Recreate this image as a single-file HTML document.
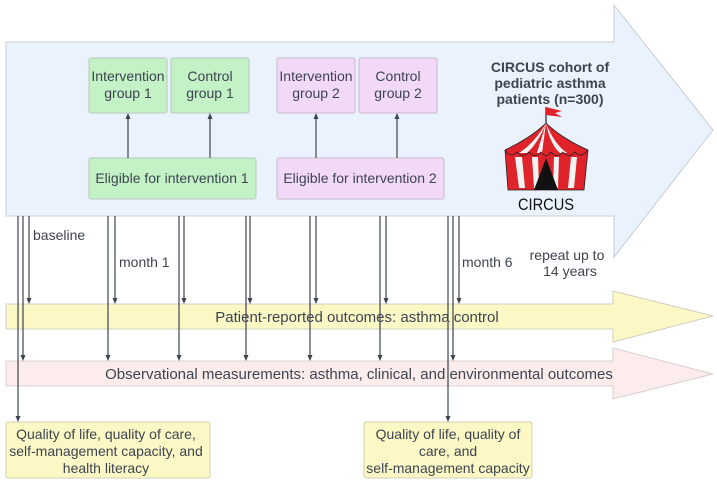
<!DOCTYPE html>
<html><head><meta charset="utf-8"><style>
html,body{margin:0;padding:0;background:#fff;}
svg text{font-family:"Liberation Sans",sans-serif;fill:#3d4450;}
</style></head><body>
<svg width="717" height="480" viewBox="0 0 717 480" xmlns="http://www.w3.org/2000/svg">
<!-- big blue arrow -->
<path d="M6,42 H614 V5 L713,130 L614,257 V216 H6 Z" fill="#eaf3fd" stroke="#c8ccd2" stroke-width="1"/>
<!-- yellow arrow -->
<path d="M6,304 H613 V291 L713,316 L613,342 V329 H6 Z" fill="#fbf8c6" stroke="#d0d0c0" stroke-width="1"/>
<text x="357" y="322" font-size="15" text-anchor="middle">Patient-reported outcomes: asthma control</text>
<!-- pink arrow -->
<path d="M6,361 H613 V348 L713,374 L613,399 V386 H6 Z" fill="#fcecec" stroke="#d8d0d0" stroke-width="1"/>
<text x="359" y="379" font-size="15" text-anchor="middle">Observational measurements: asthma, clinical, and environmental outcomes</text>

<g stroke="#b9c8b9" stroke-width="1">
<rect x="89" y="58" width="78" height="55" rx="2" fill="#c3f2c6"/>
<rect x="171" y="58" width="78" height="55" rx="2" fill="#c3f2c6"/>
<rect x="89" y="158" width="167" height="41" rx="2" fill="#c3f2c6"/>
<rect x="277" y="58" width="78" height="55" rx="2" fill="#f3d9f8" stroke="#c8b8cc"/>
<rect x="359" y="58" width="78" height="55" rx="2" fill="#f3d9f8" stroke="#c8b8cc"/>
<rect x="277" y="158" width="167" height="41" rx="2" fill="#f3d9f8" stroke="#c8b8cc"/>
<rect x="6" y="422" width="204" height="56" rx="2" fill="#fbf8c6" stroke="#d0d0b0"/>
<rect x="364" y="422" width="168" height="56" rx="2" fill="#fbf8c6" stroke="#d0d0b0"/>
</g>
<g font-size="14" text-anchor="middle">
<text x="128" y="81">Intervention</text><text x="128" y="98">group 1</text>
<text x="210" y="81">Control</text><text x="210" y="98">group 1</text>
<text x="172" y="183">Eligible for intervention 1</text>
<text x="316" y="81">Intervention</text><text x="316" y="98">group 2</text>
<text x="398" y="81">Control</text><text x="398" y="98">group 2</text>
<text x="360" y="183">Eligible for intervention 2</text>
<text x="106" y="439">Quality of life, quality of care,</text>
<text x="106" y="456">self-management capacity, and</text>
<text x="106" y="473">health literacy</text>
<text x="448" y="439">Quality of life, quality of</text>
<text x="448" y="456">care, and</text>
<text x="448" y="473">self-management capacity</text>
<text x="33" y="240" text-anchor="start">baseline</text>
<text x="119" y="267" text-anchor="start">month 1</text>
<text x="462" y="267" text-anchor="start">month 6</text>
<text x="567" y="260">repeat up to</text>
<text x="570" y="276">14 years</text>
</g>
<g font-size="14" font-weight="bold" text-anchor="middle">
<text x="550" y="72">CIRCUS cohort of</text>
<text x="550" y="88">pediatric asthma</text>
<text x="550" y="104">patients (n=300)</text>
</g>

<g stroke="#3d4450" stroke-width="1.2">
<line x1="128" y1="158" x2="128" y2="116"/>
<line x1="210" y1="158" x2="210" y2="116"/>
<line x1="316" y1="158" x2="316" y2="116"/>
<line x1="397" y1="158" x2="397" y2="116"/>
</g>
<g fill="#3d4450">
<path d="M125.5,119 L128,113 L130.5,119Z"/><path d="M207.5,119 L210,113 L212.5,119Z"/>
<path d="M313.5,119 L316,113 L318.5,119Z"/><path d="M394.5,119 L397,113 L399.5,119Z"/>
</g>

<g stroke="#3d4450" stroke-width="1.2">
<line x1="18" y1="216" x2="18" y2="416"/>
<line x1="23" y1="216" x2="23" y2="356"/>
<line x1="29" y1="216" x2="29" y2="298"/>
<line x1="108" y1="216" x2="108" y2="356"/>
<line x1="115" y1="216" x2="115" y2="298"/>
<line x1="179" y1="216" x2="179" y2="356"/>
<line x1="184" y1="216" x2="184" y2="298"/>
<line x1="246" y1="216" x2="246" y2="356"/>
<line x1="250" y1="216" x2="250" y2="298"/>
<line x1="310" y1="216" x2="310" y2="356"/>
<line x1="316" y1="216" x2="316" y2="298"/>
<line x1="380" y1="216" x2="380" y2="356"/>
<line x1="386" y1="216" x2="386" y2="298"/>
<line x1="448" y1="216" x2="448" y2="416"/>
<line x1="453" y1="216" x2="453" y2="356"/>
<line x1="459" y1="216" x2="459" y2="298"/>
</g>
<g fill="#3d4450">
<path d="M15.5,416 L18,422 L20.5,416Z"/><path d="M445.5,416 L448,422 L450.5,416Z"/>
<path d="M20.5,355 L23,361 L25.5,355Z"/><path d="M26.5,298 L29,304 L31.5,298Z"/>
<path d="M105.5,355 L108,361 L110.5,355Z"/><path d="M112.5,298 L115,304 L117.5,298Z"/>
<path d="M176.5,355 L179,361 L181.5,355Z"/><path d="M181.5,298 L184,304 L186.5,298Z"/>
<path d="M243.5,355 L246,361 L248.5,355Z"/><path d="M247.5,298 L250,304 L252.5,298Z"/>
<path d="M307.5,355 L310,361 L312.5,355Z"/><path d="M313.5,298 L316,304 L318.5,298Z"/>
<path d="M377.5,355 L380,361 L382.5,355Z"/><path d="M383.5,298 L386,304 L388.5,298Z"/>
<path d="M450.5,355 L453,361 L455.5,355Z"/><path d="M456.5,298 L459,304 L461.5,298Z"/>
</g>

<!-- tent -->
<g>
<line x1="546" y1="107" x2="546" y2="125" stroke="#222" stroke-width="1.2"/>
<path d="M546,107 L562,111 L555,113 L562,117 L546,115Z" fill="#e0232a"/>
<path d="M546,123 C535,134 518,144 505,150 L508,190 L584,190 L588,150 C574,144 557,134 546,123Z" fill="#e0232a" stroke="#222" stroke-width="0.8"/>
<g fill="#f2f2f2">
<path d="M546,123 C540,134 530,146 519,153 L527,153 C535,146 542,134 546,123Z"/>
<path d="M546,123 C548,134 552,146 560,153 L567,153 C557,146 550,134 546,123Z"/>
<path d="M546,123 C543,134 539,146 537,153 L542,153 Z"/>
<path d="M515,157 L519,188 L525,188 L522,157Z"/>
<path d="M532,157 L534,188 L539,188 L538,157Z"/>
<path d="M554,157 L553,188 L558,188 L559,157Z"/>
<path d="M571,157 L568,188 L574,188 L577,157Z"/>
</g>
<path d="M546,158 L534,190 L558,190Z" fill="#111"/>
<path d="M505,150 Q511,159 517,152 Q523,159 529,152 Q535,159 541,152 Q546,159 551,152 Q557,159 563,152 Q569,159 575,152 Q581,159 588,150" fill="none" stroke="#222" stroke-width="0.8"/>
<text x="546" y="210" font-size="17" text-anchor="middle" style="fill:#111" textLength="56" lengthAdjust="spacingAndGlyphs">CIRCUS</text>
</g>
</svg>
</body></html>
